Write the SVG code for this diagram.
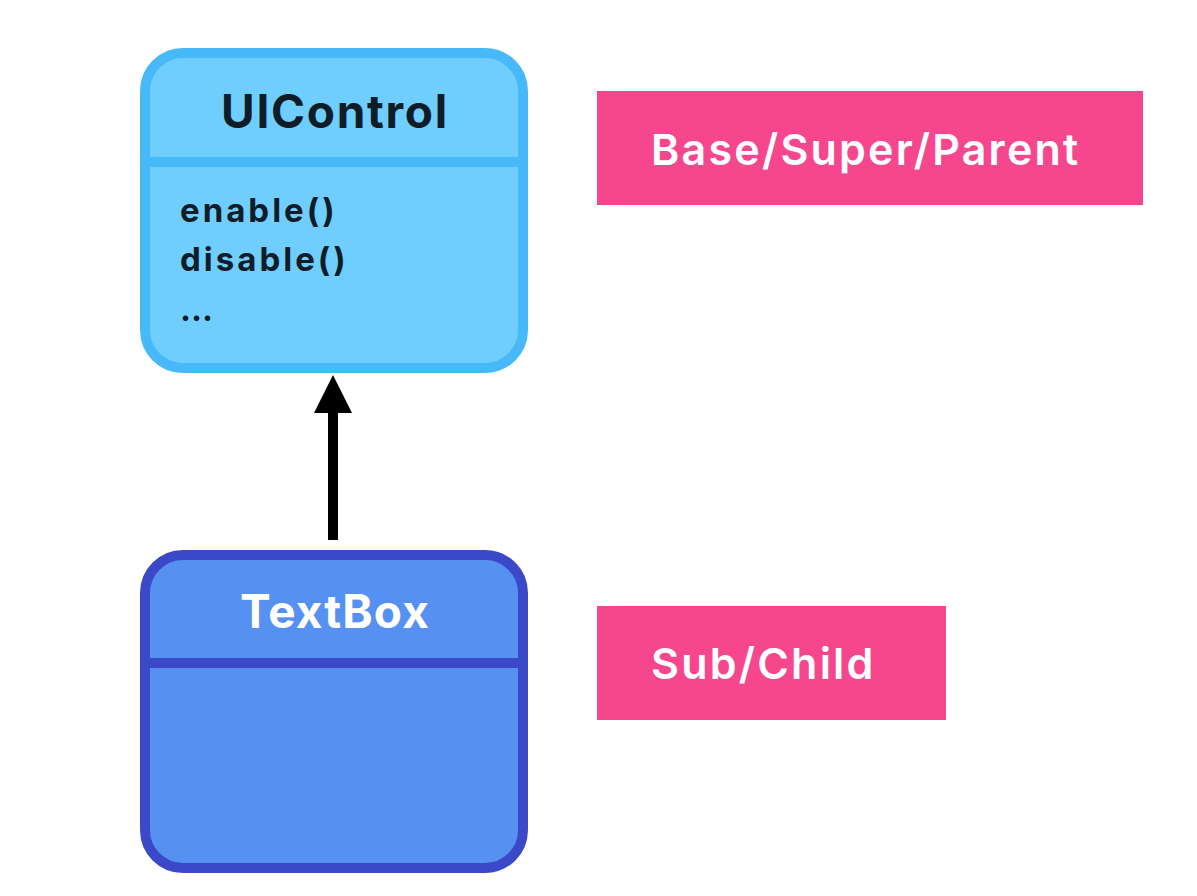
<svg xmlns="http://www.w3.org/2000/svg" width="1197" height="896" viewBox="0 0 1197 896">
<defs>
<style>
.t{font-family:Inter,"Open Sans","Liberation Sans",sans-serif;}
.title{font-size:46px;font-weight:700;text-anchor:middle;}
.member{font-size:33px;font-weight:700;fill:#0f1d28;letter-spacing:3px;}
.label{font-size:43px;font-weight:600;fill:#ffffff;letter-spacing:2.2px;}
.tag{fill:#f5468e;}
</style>
</defs>
<rect width="1197" height="896" fill="#ffffff"/>
<g id="UIControl">
<rect x="145" y="53" width="378" height="315" rx="38" fill="#6fcefd" stroke="#47b9f8" stroke-width="10"/>
<line x1="145" y1="162" x2="523" y2="162" stroke="#47b9f8" stroke-width="10"/>
<text class="t title" x="335" y="128" fill="#0f1d28" style="letter-spacing:1.7px">UIControl</text>
<text class="t member" x="180" y="222">enable()</text>
<text class="t member" x="180" y="271">disable()</text>
<text class="t member" x="180" y="321" style="letter-spacing:0px">...</text>
</g>
<g id="TextBox">
<rect x="145" y="555" width="378" height="313" rx="38" fill="#5691f2" stroke="#3b48c8" stroke-width="10"/>
<line x1="145" y1="663" x2="523" y2="663" stroke="#3b48c8" stroke-width="10"/>
<text class="t title" x="335" y="628" fill="#ffffff" style="letter-spacing:1.1px">TextBox</text>
</g>
<g id="BaseLabel">
<rect class="tag" x="597" y="91" width="546" height="114"/>
<text class="t label" x="651" y="165">Base/Super/Parent</text>
</g>
<g id="SubLabel">
<rect class="tag" x="597" y="606" width="349" height="114"/>
<text class="t label" x="651" y="679">Sub/Child</text>
</g>
<g id="connectors">
<line x1="333" y1="540" x2="333" y2="410" stroke="#000000" stroke-width="10"/>
<polygon points="333,375 352,413 314,413" fill="#000000"/>
</g>
</svg>
